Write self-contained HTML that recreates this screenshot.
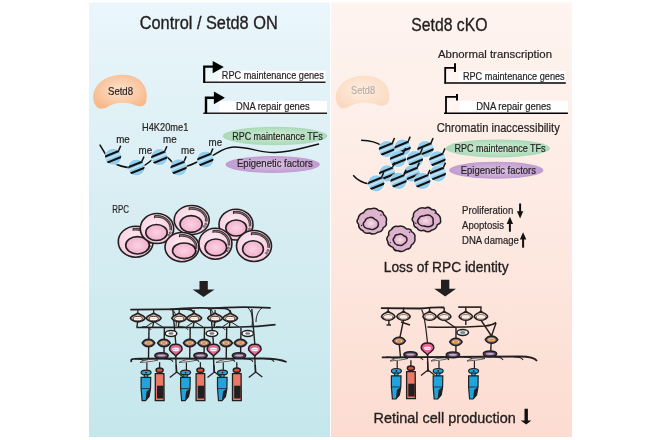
<!DOCTYPE html>
<html><head><meta charset="utf-8">
<style>
html,body{margin:0;padding:0;background:#fff;width:660px;height:440px;overflow:hidden}
svg{display:block;will-change:transform}
text{font-family:"Liberation Sans",sans-serif;fill:#231f20;stroke:#231f20;stroke-width:0.28px}
</style></head>
<body>
<svg width="660" height="440" viewBox="0 0 660 440">
<defs>
  <linearGradient id="gL" x1="0" y1="0" x2="0" y2="1">
    <stop offset="0" stop-color="#eaf6fb"/>
    <stop offset="0.45" stop-color="#d9eef3"/>
    <stop offset="1" stop-color="#c4e7ec"/>
  </linearGradient>
  <linearGradient id="gR" x1="0" y1="0" x2="0" y2="1">
    <stop offset="0" stop-color="#fef4f0"/>
    <stop offset="0.45" stop-color="#fdebe4"/>
    <stop offset="1" stop-color="#fcdcd1"/>
  </linearGradient>
  <radialGradient id="gSetd8" cx="0.5" cy="0.45" r="0.6">
    <stop offset="0" stop-color="#fde2cc"/>
    <stop offset="1" stop-color="#f7b88a"/>
  </radialGradient>
  <radialGradient id="gSetd8f" cx="0.5" cy="0.45" r="0.6">
    <stop offset="0" stop-color="#fdeee2"/>
    <stop offset="1" stop-color="#fbd9bf"/>
  </radialGradient>
  <radialGradient id="gGreen" cx="0.5" cy="0.5" r="0.5">
    <stop offset="0" stop-color="#d2ecd6"/>
    <stop offset="1" stop-color="#a9dab8"/>
  </radialGradient>
  <radialGradient id="gPurp" cx="0.5" cy="0.5" r="0.5">
    <stop offset="0" stop-color="#dcc4e4"/>
    <stop offset="1" stop-color="#c09bd0"/>
  </radialGradient>
  <radialGradient id="gNucl" cx="0.5" cy="0.5" r="0.5">
    <stop offset="0" stop-color="#fad3e3"/>
    <stop offset="1" stop-color="#f3b0cc"/>
  </radialGradient>
  <radialGradient id="gCell" cx="0.45" cy="0.4" r="0.6">
    <stop offset="0" stop-color="#fdeaf2"/>
    <stop offset="1" stop-color="#f7c9dc"/>
  </radialGradient>
  <radialGradient id="gDying" cx="0.5" cy="0.5" r="0.5">
    <stop offset="0" stop-color="#f6dcea"/>
    <stop offset="1" stop-color="#dba6c6"/>
  </radialGradient>
  <clipPath id="nclip"><circle r="8.1"/></clipPath>
  <g id="nuc">
    <circle r="8.8" fill="#fff" opacity="0.6"/>
    <circle r="8.1" fill="#94ceee"/>
    <g clip-path="url(#nclip)">
      <g transform="rotate(-22)">
        <rect x="-10" y="-1" width="20" height="1.3" fill="#c9e9f8"/>
        <rect x="-10" y="-4.3" width="20" height="2.1" fill="#111"/>
        <rect x="-10" y="2.2" width="20" height="2.1" fill="#111"/>
      </g>
    </g>
    <line x1="5.4" y1="-5.9" x2="7.6" y2="-11" stroke="#111" stroke-width="1.5"/>
  </g>
</defs>


<!-- panels -->
<rect x="89" y="2.5" width="241" height="434.5" fill="url(#gL)"/>
<rect x="331" y="2.5" width="241" height="434.5" fill="url(#gR)"/>

<!-- ============ LEFT PANEL ============ -->
<text x="139.7" y="29.2" font-size="17.6" style="stroke-width:0.34px" textLength="138" lengthAdjust="spacingAndGlyphs">Control / Setd8 ON</text>

<path d="M96,106 C89,96 95,77 119,75 C139,73 149,86 146.5,100 C145.8,106.5 140.5,107.5 134.5,105 C126,101.5 115,102 107,107.3 C101.5,110 97.5,108.5 96,106 Z" fill="url(#gSetd8)"/>
<text x="108" y="94.5" font-size="11.2" style="stroke-width:0.2px" textLength="25" lengthAdjust="spacingAndGlyphs">Setd8</text>

<!-- gene 1 -->
<rect x="205" y="70.7" width="14" height="11.5" fill="#eef8fb"/>
<rect x="218.5" y="70.7" width="107" height="11.5" fill="#fff"/>
<line x1="203.2" y1="82.3" x2="325.5" y2="82.3" stroke="#231f20" stroke-width="1.4"/>
<path d="M204.2,82.8 V66.7 H214" fill="none" stroke="#000" stroke-width="2.2"/>
<polygon points="212.7,61 223.8,66.9 212.7,73.3" fill="#000"/>
<text x="221.8" y="78.8" font-size="10.59" style="stroke-width:0.2px" textLength="102" lengthAdjust="spacingAndGlyphs">RPC maintenance genes</text>

<!-- gene 2 -->
<rect x="206.5" y="100.9" width="13" height="12" fill="#eef8fb"/>
<rect x="219.2" y="100.9" width="107.8" height="12" fill="#fff"/>
<line x1="203.3" y1="113.2" x2="327" y2="113.2" stroke="#231f20" stroke-width="1.4"/>
<path d="M206,113.5 V97.7 H215" fill="none" stroke="#000" stroke-width="2.4"/>
<polygon points="213.9,91.4 224.9,97.8 213.9,104.3" fill="#000"/>
<text x="235.9" y="109.6" font-size="10.59" style="stroke-width:0.2px" textLength="73.8" lengthAdjust="spacingAndGlyphs">DNA repair genes</text>

<text x="142" y="130.9" font-size="10.3" style="stroke-width:0.2px" textLength="46.3" lengthAdjust="spacingAndGlyphs">H4K20me1</text>

<ellipse cx="275" cy="136" rx="52.3" ry="9.2" fill="url(#gGreen)"/>
<text x="232.2" y="139.5" font-size="10.6" style="stroke-width:0.2px" textLength="90.5" lengthAdjust="spacingAndGlyphs">RPC maintenance TFs</text>
<ellipse cx="272.7" cy="164.5" rx="47.2" ry="8.5" fill="url(#gPurp)"/>
<text x="237" y="166.8" font-size="10.6" style="stroke-width:0.2px" textLength="75.7" lengthAdjust="spacingAndGlyphs">Epigenetic factors</text>

<path d="M99.7,144.7 L106,155 C112,165 125,168 136,168 C147,168 150,158 160,156 C170,154 172,166 179,167 C190,168 196,161 205,159 C215,156 222,147 234,147 C250,147 260,153 275,152.5 C292,152 305,147 319,144" fill="none" stroke="#111" stroke-width="1.5"/>
<use href="#nuc" x="113.1" y="156.75"/>
<use href="#nuc" x="136.4" y="167.5"/>
<use href="#nuc" x="159.3" y="157.2"/>
<use href="#nuc" x="178.6" y="167.4"/>
<use href="#nuc" x="205.3" y="159.5"/>
<text x="116.2" y="142.5" font-size="10.4" style="stroke-width:0.2px" textLength="13.6" lengthAdjust="spacingAndGlyphs">me</text>
<text x="138.5" y="154" font-size="10.4" style="stroke-width:0.2px" textLength="13.6" lengthAdjust="spacingAndGlyphs">me</text>
<text x="163" y="142.5" font-size="10.4" style="stroke-width:0.2px" textLength="13.6" lengthAdjust="spacingAndGlyphs">me</text>
<text x="181" y="154" font-size="10.4" style="stroke-width:0.2px" textLength="13.6" lengthAdjust="spacingAndGlyphs">me</text>
<text x="208.5" y="145.5" font-size="10.4" style="stroke-width:0.2px" textLength="13.6" lengthAdjust="spacingAndGlyphs">me</text>

<text x="112.3" y="212.6" font-size="10.2" style="stroke-width:0.2px" textLength="16.7" lengthAdjust="spacingAndGlyphs">RPC</text>

<ellipse cx="191.7" cy="220" rx="17.5" ry="14.5" fill="url(#gCell)" stroke="#231f20" stroke-width="1.6"/>
<path d="M189.67,208.51 A14.60,11.60 0 0 1 206.16,221.61" fill="none" stroke="#3e3236" stroke-width="2.6"/>
<path d="M189.67,208.51 A14.60,11.60 0 0 1 206.16,221.61" fill="none" stroke="#9a8a90" stroke-width="0.7"/>
<path d="M189.37,207.31 L189.07,210.11" fill="none" stroke="#231f20" stroke-width="1.1"/>
<circle cx="205.70" cy="224.07" r="0.9" fill="#fff" stroke="#231f20" stroke-width="0.8"/>
<circle cx="204.20" cy="226.48" r="0.9" fill="#fff" stroke="#231f20" stroke-width="0.8"/>
<ellipse cx="191.1" cy="224" rx="11.1" ry="8.4" fill="url(#gNucl)" stroke="#231f20" stroke-width="1.6"/>
<ellipse cx="236" cy="224.6" rx="17" ry="15.4" fill="url(#gCell)" stroke="#231f20" stroke-width="1.6"/>
<path d="M234.04,212.22 A14.10,12.50 0 0 1 249.96,226.34" fill="none" stroke="#3e3236" stroke-width="2.6"/>
<path d="M234.04,212.22 A14.10,12.50 0 0 1 249.96,226.34" fill="none" stroke="#9a8a90" stroke-width="0.7"/>
<path d="M233.74,211.02 L233.44,213.82" fill="none" stroke="#231f20" stroke-width="1.1"/>
<circle cx="249.53" cy="228.98" r="0.9" fill="#fff" stroke="#231f20" stroke-width="0.8"/>
<circle cx="248.08" cy="231.57" r="0.9" fill="#fff" stroke="#231f20" stroke-width="0.8"/>
<ellipse cx="236.2" cy="228" rx="10.4" ry="8" fill="url(#gNucl)" stroke="#231f20" stroke-width="1.6"/>
<ellipse cx="135.7" cy="241.7" rx="17.4" ry="15.5" fill="url(#gCell)" stroke="#231f20" stroke-width="1.6"/>
<path d="M133.68,229.22 A14.50,12.60 0 0 1 150.06,243.45" fill="none" stroke="#3e3236" stroke-width="2.6"/>
<path d="M133.68,229.22 A14.50,12.60 0 0 1 150.06,243.45" fill="none" stroke="#9a8a90" stroke-width="0.7"/>
<path d="M133.38,228.02 L133.08,230.82" fill="none" stroke="#231f20" stroke-width="1.1"/>
<circle cx="149.61" cy="246.11" r="0.9" fill="#fff" stroke="#231f20" stroke-width="0.8"/>
<circle cx="148.11" cy="248.73" r="0.9" fill="#fff" stroke="#231f20" stroke-width="0.8"/>
<ellipse cx="137.5" cy="245.3" rx="11.8" ry="8.7" fill="url(#gNucl)" stroke="#231f20" stroke-width="1.6"/>
<ellipse cx="157" cy="228.5" rx="16.7" ry="15" fill="url(#gCell)" stroke="#231f20" stroke-width="1.6"/>
<path d="M155.08,216.52 A13.80,12.10 0 0 1 170.67,230.18" fill="none" stroke="#3e3236" stroke-width="2.6"/>
<path d="M155.08,216.52 A13.80,12.10 0 0 1 170.67,230.18" fill="none" stroke="#9a8a90" stroke-width="0.7"/>
<path d="M154.78,215.32 L154.48,218.12" fill="none" stroke="#231f20" stroke-width="1.1"/>
<circle cx="170.25" cy="232.74" r="0.9" fill="#fff" stroke="#231f20" stroke-width="0.8"/>
<circle cx="168.83" cy="235.25" r="0.9" fill="#fff" stroke="#231f20" stroke-width="0.8"/>
<ellipse cx="156.5" cy="232.5" rx="10.7" ry="8" fill="url(#gNucl)" stroke="#231f20" stroke-width="1.6"/>
<ellipse cx="182" cy="247.1" rx="17" ry="14.6" fill="url(#gCell)" stroke="#231f20" stroke-width="1.6"/>
<path d="M180.04,235.51 A14.10,11.70 0 0 1 195.96,248.73" fill="none" stroke="#3e3236" stroke-width="2.6"/>
<path d="M180.04,235.51 A14.10,11.70 0 0 1 195.96,248.73" fill="none" stroke="#9a8a90" stroke-width="0.7"/>
<path d="M179.74,234.31 L179.44,237.11" fill="none" stroke="#231f20" stroke-width="1.1"/>
<circle cx="195.53" cy="251.20" r="0.9" fill="#fff" stroke="#231f20" stroke-width="0.8"/>
<circle cx="194.08" cy="253.64" r="0.9" fill="#fff" stroke="#231f20" stroke-width="0.8"/>
<ellipse cx="184.1" cy="250.8" rx="11.6" ry="7.8" fill="url(#gNucl)" stroke="#231f20" stroke-width="1.6"/>
<ellipse cx="215.4" cy="243.7" rx="16.5" ry="15.5" fill="url(#gCell)" stroke="#231f20" stroke-width="1.6"/>
<path d="M213.51,231.22 A13.60,12.60 0 0 1 228.87,245.45" fill="none" stroke="#3e3236" stroke-width="2.6"/>
<path d="M213.51,231.22 A13.60,12.60 0 0 1 228.87,245.45" fill="none" stroke="#9a8a90" stroke-width="0.7"/>
<path d="M213.21,230.02 L212.91,232.82" fill="none" stroke="#231f20" stroke-width="1.1"/>
<circle cx="228.46" cy="248.11" r="0.9" fill="#fff" stroke="#231f20" stroke-width="0.8"/>
<circle cx="227.06" cy="250.73" r="0.9" fill="#fff" stroke="#231f20" stroke-width="0.8"/>
<ellipse cx="215.8" cy="247.4" rx="10.8" ry="8.4" fill="url(#gNucl)" stroke="#231f20" stroke-width="1.6"/>
<ellipse cx="254" cy="246" rx="17.5" ry="15.5" fill="url(#gCell)" stroke="#231f20" stroke-width="1.6"/>
<path d="M251.97,233.52 A14.60,12.60 0 0 1 268.46,247.75" fill="none" stroke="#3e3236" stroke-width="2.6"/>
<path d="M251.97,233.52 A14.60,12.60 0 0 1 268.46,247.75" fill="none" stroke="#9a8a90" stroke-width="0.7"/>
<path d="M251.67,232.32 L251.37,235.12" fill="none" stroke="#231f20" stroke-width="1.1"/>
<circle cx="268.00" cy="250.41" r="0.9" fill="#fff" stroke="#231f20" stroke-width="0.8"/>
<circle cx="266.50" cy="253.03" r="0.9" fill="#fff" stroke="#231f20" stroke-width="0.8"/>
<ellipse cx="253" cy="249" rx="10.4" ry="8.3" fill="url(#gNucl)" stroke="#231f20" stroke-width="1.6"/>

<polygon points="199.5,281.1 207.8,281.1 207.8,289.5 214.6,289.5 203.5,297 192.7,289.5 199.5,289.5" fill="#231f20"/>

<!-- ============ RIGHT PANEL ============ -->
<text x="411.3" y="30.7" font-size="17.6" style="stroke-width:0.34px" textLength="76.2" lengthAdjust="spacingAndGlyphs">Setd8 cKO</text>

<path d="M338.5,106 C331.5,96 337.5,78 361.5,75.8 C381.5,74 391.5,87 389,99.5 C388,105.5 382.5,107 376.5,104.5 C367.5,101 356.5,102 348.5,107 C343.5,109.5 340,108.5 338.5,106 Z" fill="url(#gSetd8f)"/>
<text x="351.1" y="94.1" font-size="11.2" style="stroke-width:0.1px;fill:#b5aaa6;stroke:#b5aaa6" textLength="24" lengthAdjust="spacingAndGlyphs">Setd8</text>

<text x="438" y="58" font-size="11.3" style="stroke-width:0.2px" textLength="114" lengthAdjust="spacingAndGlyphs">Abnormal transcription</text>

<rect x="446" y="70.9" width="14" height="11.7" fill="#fff6f3"/>
<rect x="459.1" y="70.9" width="106.7" height="11.7" fill="#fff"/>
<line x1="444.4" y1="83" x2="565.8" y2="83" stroke="#000" stroke-width="1.6"/>
<path d="M445.2,83.5 V67.8 H455" fill="none" stroke="#000" stroke-width="1.8"/>
<line x1="455" y1="63.3" x2="455" y2="72" stroke="#000" stroke-width="2"/>
<text x="462.9" y="79.6" font-size="10.59" style="stroke-width:0.2px" textLength="101.8" lengthAdjust="spacingAndGlyphs">RPC maintenance genes</text>

<rect x="447" y="100.8" width="14" height="11.8" fill="#fff6f3"/>
<rect x="459.7" y="100.8" width="108.2" height="11.8" fill="#fff"/>
<line x1="444" y1="113.3" x2="567.9" y2="113.3" stroke="#000" stroke-width="1.6"/>
<path d="M446,113.8 V96.8 H457" fill="none" stroke="#000" stroke-width="1.8"/>
<line x1="457" y1="94" x2="457" y2="100.5" stroke="#000" stroke-width="2"/>
<text x="476.2" y="110.4" font-size="10.59" style="stroke-width:0.2px" textLength="74.8" lengthAdjust="spacingAndGlyphs">DNA repair genes</text>

<text x="436.8" y="131.5" font-size="12.4" style="stroke-width:0.2px" textLength="123" lengthAdjust="spacingAndGlyphs">Chromatin inaccessibility</text>

<ellipse cx="497.9" cy="148.4" rx="52" ry="9" fill="url(#gGreen)"/>
<text x="454.4" y="151.5" font-size="10.6" style="stroke-width:0.2px" textLength="91.2" lengthAdjust="spacingAndGlyphs">RPC maintenance TFs</text>
<ellipse cx="496.3" cy="170.2" rx="47.2" ry="8.5" fill="url(#gPurp)"/>
<text x="460.8" y="174" font-size="10.6" style="stroke-width:0.2px" textLength="75.2" lengthAdjust="spacingAndGlyphs">Epigenetic factors</text>

<path d="M361.1,140.3 C368,140.5 376,141.5 382,146" fill="none" stroke="#111" stroke-width="1.5"/>
<path d="M353.2,175.3 C357,180 362,183 370,184" fill="none" stroke="#111" stroke-width="1.5"/>

<use href="#nuc" x="386.9" y="149"/>
<use href="#nuc" x="402.6" y="147.6"/>
<use href="#nuc" x="425.5" y="149.1"/>
<use href="#nuc" x="398" y="159"/>
<use href="#nuc" x="414.9" y="159.2"/>
<use href="#nuc" x="437.4" y="159.4"/>
<use href="#nuc" x="387.1" y="173.4"/>
<use href="#nuc" x="411.7" y="173.6"/>
<use href="#nuc" x="437.9" y="173.6"/>
<use href="#nuc" x="376.2" y="183.3"/>
<use href="#nuc" x="398.5" y="180.9"/>
<use href="#nuc" x="422.3" y="180.9"/>
<path d="M386.17,222.28 Q387.41,225.71 383.23,227.69 Q382.39,231.97 377.59,232.29 Q373.94,235.40 369.51,232.97 Q364.86,234.29 362.96,230.73 Q358.31,228.76 358.62,224.20 Q355.64,221.33 358.25,218.54 Q358.42,214.34 363.53,212.78 Q366.06,208.30 370.87,208.93 Q375.40,206.96 378.66,210.44 Q383.15,210.58 383.66,214.65 Q387.64,217.80 386.17,222.28 Z" fill="#dfb2cd" stroke="#231f20" stroke-width="1.5"/>
<path d="M378.41,223.87 Q378.82,226.86 375.56,228.29 Q373.15,230.54 369.53,228.98 Q365.08,228.67 363.63,225.70 Q362.29,223.50 364.96,221.29 Q365.59,218.03 369.00,217.63 Q372.32,216.49 374.84,219.27 Q378.52,220.93 378.41,223.87 Z" fill="url(#gDying)" stroke="#231f20" stroke-width="1.4"/>
<circle cx="361.50" cy="225.56" r="0.7" fill="#231f20"/><circle cx="381.00" cy="215.00" r="0.7" fill="#231f20"/>
<path d="M414.83,237.98 Q415.82,242.23 411.36,245.20 Q410.75,249.26 406.28,249.26 Q402.72,252.76 398.36,250.70 Q394.51,251.58 393.08,247.41 Q387.93,245.74 387.68,241.36 Q385.45,238.19 388.81,235.20 Q387.74,230.99 391.49,229.65 Q393.41,225.62 398.05,226.49 Q402.77,225.01 406.67,229.07 Q411.08,228.36 411.53,231.61 Q415.85,233.96 414.83,237.98 Z" fill="#dfb2cd" stroke="#231f20" stroke-width="1.5"/>
<path d="M406.89,239.20 Q407.32,242.17 403.98,243.77 Q401.89,246.41 398.74,245.19 Q394.95,244.85 393.90,241.61 Q392.17,239.44 394.43,237.30 Q394.82,234.52 398.09,234.51 Q401.33,233.17 403.75,235.76 Q407.19,236.77 406.89,239.20 Z" fill="url(#gDying)" stroke="#231f20" stroke-width="1.4"/>
<circle cx="390.34" cy="242.60" r="0.7" fill="#231f20"/><circle cx="409.58" cy="232.20" r="0.7" fill="#231f20"/>
<path d="M440.51,220.38 Q441.66,223.13 437.36,224.60 Q436.33,229.45 431.30,230.36 Q428.01,233.13 423.98,230.34 Q419.10,231.60 417.05,228.04 Q412.96,226.53 413.82,222.40 Q410.81,219.43 413.40,216.48 Q412.84,211.90 417.14,210.09 Q419.97,206.60 425.24,208.16 Q428.94,206.09 431.52,209.51 Q435.82,209.30 436.27,213.15 Q441.12,216.15 440.51,220.38 Z" fill="#dfb2cd" stroke="#231f20" stroke-width="1.5"/>
<path d="M432.97,221.37 Q434.24,224.16 431.75,225.59 Q428.90,227.58 424.21,226.01 Q419.74,225.92 418.30,223.22 Q416.56,220.78 418.81,218.44 Q420.15,215.66 424.32,215.70 Q428.62,214.15 431.26,216.23 Q434.01,218.17 432.97,221.37 Z" fill="url(#gDying)" stroke="#231f20" stroke-width="1.4"/>
<circle cx="415.84" cy="223.28" r="0.7" fill="#231f20"/><circle cx="435.08" cy="213.20" r="0.7" fill="#231f20"/>

<text x="462.1" y="214" font-size="10.2" style="stroke-width:0.2px" textLength="51.2" lengthAdjust="spacingAndGlyphs">Proliferation</text>
<text x="462.1" y="229" font-size="10.2" style="stroke-width:0.2px" textLength="41.9" lengthAdjust="spacingAndGlyphs">Apoptosis</text>
<text x="462.1" y="244" font-size="10.2" style="stroke-width:0.2px" textLength="56.7" lengthAdjust="spacingAndGlyphs">DNA damage</text>
<g fill="#111">
<rect x="519.1" y="203.5" width="2" height="9"/><polygon points="516.9,211.3 523.3,211.3 520.1,218.4"/>
<rect x="508.9" y="222" width="2" height="9.7"/><polygon points="506.7,224 513.1,224 509.9,216.8"/>
<rect x="522.1" y="237.5" width="2" height="10.2"/><polygon points="519.9,239.5 526.3,239.5 523.1,232.2"/>
</g>

<text x="383.8" y="272.3" font-size="14.5" style="stroke-width:0.34px" textLength="124.8" lengthAdjust="spacingAndGlyphs">Loss of RPC identity</text>
<polygon points="441,279.8 449.3,279.8 449.3,288.8 456,288.8 445.2,296.5 434.2,288.8 441,288.8" fill="#231f20"/>

<text x="373.6" y="422.6" font-size="14.4" style="stroke-width:0.34px" textLength="142.2" lengthAdjust="spacingAndGlyphs">Retinal cell production</text>
<polygon points="524.5,408.7 527.9,408.7 527.9,420.5 531.3,420.5 526.2,424.6 520.7,420.5 524.5,420.5" fill="#111"/>

<path d="M130.3,309.6 L186,309.2 C190,309.2 193,310.5 194,313" fill="none" stroke="#231f20" stroke-width="1.8"/>
<path d="M170,309.5 C185,307.5 200,307.3 225,308.5 C228,309 230,310.5 231,313" fill="none" stroke="#231f20" stroke-width="1.6"/>
<path d="M208,309 C225,306.8 245,306.5 270.7,307.8" fill="none" stroke="#231f20" stroke-width="1.7"/>
<path d="M171.5,309 C176,312 177,318 176,326 M248,308 C252,311 253,318 252,326 M210,308.5 C214,312 215,318 214,326" fill="none" stroke="#231f20" stroke-width="1"/>
<path d="M262,308 C258,311 256,316 256,322" fill="none" stroke="#231f20" stroke-width="1"/>
<path d="M136.6,327.5 C170,327 200,328 240,327 C255,327 265,326 275.5,324.6" fill="none" stroke="#231f20" stroke-width="1.6"/>
<path d="M131.5,362 C130.5,360 131.5,358.8 134,358.8 C170,358 220,359 260,358.5 C272,358.3 280,359 286.6,362" fill="none" stroke="#231f20" stroke-width="1.8"/>
<line x1="137.8" y1="310" x2="137.8" y2="314.5" stroke="#231f20" stroke-width="1.2"/>
<line x1="137.8" y1="321" x2="136.8" y2="327.5" stroke="#231f20" stroke-width="1.4"/>
<line x1="153.7" y1="310" x2="153.7" y2="314.5" stroke="#231f20" stroke-width="1.2"/>
<line x1="153.7" y1="321" x2="152.7" y2="327.5" stroke="#231f20" stroke-width="1.4"/>
<line x1="179.2" y1="310" x2="179.2" y2="314.5" stroke="#231f20" stroke-width="1.2"/>
<line x1="179.2" y1="321" x2="178.2" y2="327.5" stroke="#231f20" stroke-width="1.4"/>
<line x1="194.2" y1="310" x2="194.2" y2="314.5" stroke="#231f20" stroke-width="1.2"/>
<line x1="194.2" y1="321" x2="193.2" y2="327.5" stroke="#231f20" stroke-width="1.4"/>
<line x1="215.1" y1="310" x2="215.1" y2="314.5" stroke="#231f20" stroke-width="1.2"/>
<line x1="215.1" y1="321" x2="214.1" y2="327.5" stroke="#231f20" stroke-width="1.4"/>
<line x1="230.2" y1="310" x2="230.2" y2="314.5" stroke="#231f20" stroke-width="1.2"/>
<line x1="230.2" y1="321" x2="229.2" y2="327.5" stroke="#231f20" stroke-width="1.4"/>
<path d="M153.7,321.5 L145.7,327 M153.7,321.5 L162.7,327" fill="none" stroke="#231f20" stroke-width="1"/>
<path d="M194.2,321.5 L186.2,327 M194.2,321.5 L203.2,327" fill="none" stroke="#231f20" stroke-width="1"/>
<path d="M230.2,321.5 L222.2,327 M230.2,321.5 L239.2,327" fill="none" stroke="#231f20" stroke-width="1"/>
<line x1="149.0" y1="327.5" x2="148.5" y2="358.8" stroke="#231f20" stroke-width="1.4"/>
<line x1="164.4" y1="327.5" x2="163.9" y2="358.8" stroke="#231f20" stroke-width="1.4"/>
<line x1="190.2" y1="327.5" x2="189.7" y2="358.8" stroke="#231f20" stroke-width="1.4"/>
<line x1="204.5" y1="327.5" x2="204" y2="358.8" stroke="#231f20" stroke-width="1.4"/>
<line x1="226.7" y1="327.5" x2="226.2" y2="358.8" stroke="#231f20" stroke-width="1.4"/>
<line x1="241.0" y1="327.5" x2="240.5" y2="358.8" stroke="#231f20" stroke-width="1.4"/>
<line x1="172.8" y1="309" x2="175.8" y2="344" stroke="#231f20" stroke-width="1.4"/>
<line x1="175.8" y1="356" x2="176.3" y2="372" stroke="#231f20" stroke-width="1.4"/>
<line x1="210.5" y1="309" x2="213.5" y2="344" stroke="#231f20" stroke-width="1.4"/>
<line x1="213.5" y1="356" x2="214.0" y2="372" stroke="#231f20" stroke-width="1.4"/>
<line x1="251.8" y1="309" x2="254.8" y2="344" stroke="#231f20" stroke-width="1.4"/>
<line x1="254.8" y1="356" x2="255.3" y2="372" stroke="#231f20" stroke-width="1.4"/>
<path d="M130.40,318.40 C130.40,315.80 135.60,314.80 137.80,313.20 C140.00,314.80 145.20,315.80 145.20,318.40 C141.87,323.00 133.73,323.00 130.40,318.40 Z" fill="#e2bca6" stroke="#231f20" stroke-width="1.6"/><ellipse cx="137.8" cy="318.60" rx="4.6" ry="2.3" fill="#fff6ee" stroke="#3a2c28" stroke-width="1"/><rect x="134.80" y="318.30" width="6" height="0.7" fill="#e6cbb8"/>
<path d="M146.30,318.40 C146.30,315.80 151.50,314.80 153.70,313.20 C155.90,314.80 161.10,315.80 161.10,318.40 C157.77,323.00 149.63,323.00 146.30,318.40 Z" fill="#e2bca6" stroke="#231f20" stroke-width="1.6"/><ellipse cx="153.7" cy="318.60" rx="4.6" ry="2.3" fill="#fff6ee" stroke="#3a2c28" stroke-width="1"/><rect x="150.70" y="318.30" width="6" height="0.7" fill="#e6cbb8"/>
<path d="M171.80,318.40 C171.80,315.80 177.00,314.80 179.20,313.20 C181.40,314.80 186.60,315.80 186.60,318.40 C183.27,323.00 175.13,323.00 171.80,318.40 Z" fill="#e2bca6" stroke="#231f20" stroke-width="1.6"/><ellipse cx="179.2" cy="318.60" rx="4.6" ry="2.3" fill="#fff6ee" stroke="#3a2c28" stroke-width="1"/><rect x="176.20" y="318.30" width="6" height="0.7" fill="#e6cbb8"/>
<path d="M186.80,318.40 C186.80,315.80 192.00,314.80 194.20,313.20 C196.40,314.80 201.60,315.80 201.60,318.40 C198.27,323.00 190.13,323.00 186.80,318.40 Z" fill="#e2bca6" stroke="#231f20" stroke-width="1.6"/><ellipse cx="194.2" cy="318.60" rx="4.6" ry="2.3" fill="#fff6ee" stroke="#3a2c28" stroke-width="1"/><rect x="191.20" y="318.30" width="6" height="0.7" fill="#e6cbb8"/>
<path d="M207.70,318.40 C207.70,315.80 212.90,314.80 215.10,313.20 C217.30,314.80 222.50,315.80 222.50,318.40 C219.17,323.00 211.03,323.00 207.70,318.40 Z" fill="#e2bca6" stroke="#231f20" stroke-width="1.6"/><ellipse cx="215.1" cy="318.60" rx="4.6" ry="2.3" fill="#fff6ee" stroke="#3a2c28" stroke-width="1"/><rect x="212.10" y="318.30" width="6" height="0.7" fill="#e6cbb8"/>
<path d="M222.80,318.40 C222.80,315.80 228.00,314.80 230.20,313.20 C232.40,314.80 237.60,315.80 237.60,318.40 C234.27,323.00 226.13,323.00 222.80,318.40 Z" fill="#e2bca6" stroke="#231f20" stroke-width="1.6"/><ellipse cx="230.2" cy="318.60" rx="4.6" ry="2.3" fill="#fff6ee" stroke="#3a2c28" stroke-width="1"/><rect x="227.20" y="318.30" width="6" height="0.7" fill="#e6cbb8"/>
<ellipse cx="171" cy="333.5" rx="5.8" ry="2.9" fill="#fff" stroke="#231f20" stroke-width="1.5"/><ellipse cx="171" cy="333.5" rx="2.6" ry="1.2" fill="#7a7a7a"/>
<ellipse cx="211.9" cy="333.5" rx="5.8" ry="2.9" fill="#fff" stroke="#231f20" stroke-width="1.5"/><ellipse cx="211.9" cy="333.5" rx="2.6" ry="1.2" fill="#7a7a7a"/>
<ellipse cx="247.7" cy="333.5" rx="5.8" ry="2.9" fill="#fff" stroke="#231f20" stroke-width="1.5"/><ellipse cx="247.7" cy="333.5" rx="2.6" ry="1.2" fill="#7a7a7a"/>
<path d="M142.30,343.00 C145.09,338.21 151.91,338.21 154.70,343.00 C151.91,347.79 145.09,347.79 142.30,343.00 Z" fill="#9c7c70" stroke="#231f20" stroke-width="1.6"/><ellipse cx="148.5" cy="343" rx="3.3" ry="1.4" fill="#f3e3dc"/><ellipse cx="148.5" cy="343" rx="2.64" ry="0.98" fill="#f08c14"/>
<path d="M157.70,343.00 C160.49,338.21 167.31,338.21 170.10,343.00 C167.31,347.79 160.49,347.79 157.70,343.00 Z" fill="#9c7c70" stroke="#231f20" stroke-width="1.6"/><ellipse cx="163.9" cy="343" rx="3.3" ry="1.4" fill="#f3e3dc"/><ellipse cx="163.9" cy="343" rx="2.64" ry="0.98" fill="#f08c14"/>
<path d="M183.50,343.00 C186.29,338.21 193.11,338.21 195.90,343.00 C193.11,347.79 186.29,347.79 183.50,343.00 Z" fill="#9c7c70" stroke="#231f20" stroke-width="1.6"/><ellipse cx="189.7" cy="343" rx="3.3" ry="1.4" fill="#f3e3dc"/><ellipse cx="189.7" cy="343" rx="2.64" ry="0.98" fill="#f08c14"/>
<path d="M197.80,343.00 C200.59,338.21 207.41,338.21 210.20,343.00 C207.41,347.79 200.59,347.79 197.80,343.00 Z" fill="#9c7c70" stroke="#231f20" stroke-width="1.6"/><ellipse cx="204" cy="343" rx="3.3" ry="1.4" fill="#f3e3dc"/><ellipse cx="204" cy="343" rx="2.64" ry="0.98" fill="#f08c14"/>
<path d="M220.00,343.00 C222.79,338.21 229.61,338.21 232.40,343.00 C229.61,347.79 222.79,347.79 220.00,343.00 Z" fill="#9c7c70" stroke="#231f20" stroke-width="1.6"/><ellipse cx="226.2" cy="343" rx="3.3" ry="1.4" fill="#f3e3dc"/><ellipse cx="226.2" cy="343" rx="2.64" ry="0.98" fill="#f08c14"/>
<path d="M234.30,343.00 C237.09,338.21 243.91,338.21 246.70,343.00 C243.91,347.79 237.09,347.79 234.30,343.00 Z" fill="#9c7c70" stroke="#231f20" stroke-width="1.6"/><ellipse cx="240.5" cy="343" rx="3.3" ry="1.4" fill="#f3e3dc"/><ellipse cx="240.5" cy="343" rx="2.64" ry="0.98" fill="#f08c14"/>
<path d="M135,358.8 C140,358.6 143,359.5 144,361.8" fill="none" stroke="#231f20" stroke-width="1.1"/>
<path d="M164,358.8 C169,358.6 172,359.5 173,361.8" fill="none" stroke="#231f20" stroke-width="1.1"/>
<path d="M190,358.8 C195,358.6 198,359.5 199,361.8" fill="none" stroke="#231f20" stroke-width="1.1"/>
<path d="M226,358.8 C231,358.6 234,359.5 235,361.8" fill="none" stroke="#231f20" stroke-width="1.1"/>
<path d="M244,358.8 C249,358.6 252,359.5 253,361.8" fill="none" stroke="#231f20" stroke-width="1.1"/>
<path d="M265,358.8 C270,358.6 273,359.5 274,361.8" fill="none" stroke="#231f20" stroke-width="1.1"/>
<path d="M142,326.8 C147,326.5 150,327.5 151,330" fill="none" stroke="#231f20" stroke-width="1"/>
<path d="M179,326.8 C184,326.5 187,327.5 188,330" fill="none" stroke="#231f20" stroke-width="1"/>
<path d="M216,326.8 C221,326.5 224,327.5 225,330" fill="none" stroke="#231f20" stroke-width="1"/>
<path d="M175.80,356.20 C173.80,353.20 169.50,352.20 169.50,349.20 C169.50,345.20 172.80,344.20 175.80,344.20 C178.80,344.20 182.10,345.20 182.10,349.20 C182.10,352.20 177.80,353.20 175.80,356.20 Z" fill="#ec6396" stroke="#231f20" stroke-width="1.5"/><ellipse cx="175.8" cy="349.40" rx="3.6" ry="1.8" fill="#fff"/><rect x="172.40" y="349.00" width="6.8" height="0.8" fill="#f3a5c2"/>
<path d="M213.50,356.20 C211.50,353.20 207.20,352.20 207.20,349.20 C207.20,345.20 210.50,344.20 213.50,344.20 C216.50,344.20 219.80,345.20 219.80,349.20 C219.80,352.20 215.50,353.20 213.50,356.20 Z" fill="#ec6396" stroke="#231f20" stroke-width="1.5"/><ellipse cx="213.5" cy="349.40" rx="3.6" ry="1.8" fill="#fff"/><rect x="210.10" y="349.00" width="6.8" height="0.8" fill="#f3a5c2"/>
<path d="M254.80,356.20 C252.80,353.20 248.50,352.20 248.50,349.20 C248.50,345.20 251.80,344.20 254.80,344.20 C257.80,344.20 261.10,345.20 261.10,349.20 C261.10,352.20 256.80,353.20 254.80,356.20 Z" fill="#ec6396" stroke="#231f20" stroke-width="1.5"/><ellipse cx="254.8" cy="349.40" rx="3.6" ry="1.8" fill="#fff"/><rect x="251.40" y="349.00" width="6.8" height="0.8" fill="#f3a5c2"/>
<ellipse cx="161.5" cy="355.5" rx="6.6" ry="2.8" fill="#5e4e62" stroke="#231f20" stroke-width="1.6"/><ellipse cx="161.5" cy="355.50" rx="4" ry="1.1" fill="#c7a6d6"/>
<ellipse cx="200.5" cy="355.5" rx="6.6" ry="2.8" fill="#5e4e62" stroke="#231f20" stroke-width="1.6"/><ellipse cx="200.5" cy="355.50" rx="4" ry="1.1" fill="#c7a6d6"/>
<ellipse cx="239" cy="355.5" rx="6.6" ry="2.8" fill="#5e4e62" stroke="#231f20" stroke-width="1.6"/><ellipse cx="239" cy="355.50" rx="4" ry="1.1" fill="#c7a6d6"/>
<path d="M176.3,365 L176.8,372 L169.8,377.5 M176.8,372 L183.3,377" fill="none" stroke="#231f20" stroke-width="1.3"/>
<path d="M214.0,365 L214.5,372 L207.5,377.5 M214.5,372 L221.0,377" fill="none" stroke="#231f20" stroke-width="1.3"/>
<path d="M255.3,365 L255.8,372 L248.8,377.5 M255.8,372 L262.3,377" fill="none" stroke="#231f20" stroke-width="1.3"/>
<path d="M140,362.5 C144,359.5 153,359 158,360 C153,361.5 145,362 140,362.5 Z" fill="#fff" stroke="#231f20" stroke-width="0.7"/>
<path d="M179,362.5 C183,359.5 192,359 197,360 C192,361.5 184,362 179,362.5 Z" fill="#fff" stroke="#231f20" stroke-width="0.7"/>
<path d="M216,362.5 C220,359.5 229,359 234,360 C229,361.5 221,362 216,362.5 Z" fill="#fff" stroke="#231f20" stroke-width="0.7"/>
<line x1="146.90" y1="362.60" x2="146.90" y2="370.60" stroke="#231f20" stroke-width="1.2"/><ellipse cx="146.1" cy="372.6" rx="5" ry="2.5" fill="#20a4dd" stroke="#231f20" stroke-width="1.2"/><circle cx="146.1" cy="372.6" r="0.9" fill="#231f20"/><rect x="144.30" y="374.60" width="3.4" height="3" fill="#20a4dd" stroke="#231f20" stroke-width="1"/><path d="M141.10,377.40 L150.70,377.40 L150.50,388.60 L149.10,396.60 L145.60,400.60 L142.10,400.60 L141.10,388.60 Z" fill="#20a4dd" stroke="#231f20" stroke-width="1.2"/><path d="M150.50,388.60 L149.10,396.60 L145.60,400.60 L146.60,391.60 Z" fill="#231f20"/><line x1="141.10" y1="388.60" x2="150.50" y2="388.60" stroke="#231f20" stroke-width="0.8"/>
<line x1="186.40" y1="362.60" x2="186.40" y2="370.60" stroke="#231f20" stroke-width="1.2"/><ellipse cx="185.6" cy="372.6" rx="5" ry="2.5" fill="#20a4dd" stroke="#231f20" stroke-width="1.2"/><circle cx="185.6" cy="372.6" r="0.9" fill="#231f20"/><rect x="183.80" y="374.60" width="3.4" height="3" fill="#20a4dd" stroke="#231f20" stroke-width="1"/><path d="M180.60,377.40 L190.20,377.40 L190.00,388.60 L188.60,396.60 L185.10,400.60 L181.60,400.60 L180.60,388.60 Z" fill="#20a4dd" stroke="#231f20" stroke-width="1.2"/><path d="M190.00,388.60 L188.60,396.60 L185.10,400.60 L186.10,391.60 Z" fill="#231f20"/><line x1="180.60" y1="388.60" x2="190.00" y2="388.60" stroke="#231f20" stroke-width="0.8"/>
<line x1="223.30" y1="362.60" x2="223.30" y2="370.60" stroke="#231f20" stroke-width="1.2"/><ellipse cx="222.5" cy="372.6" rx="5" ry="2.5" fill="#20a4dd" stroke="#231f20" stroke-width="1.2"/><circle cx="222.5" cy="372.6" r="0.9" fill="#231f20"/><rect x="220.70" y="374.60" width="3.4" height="3" fill="#20a4dd" stroke="#231f20" stroke-width="1"/><path d="M217.50,377.40 L227.10,377.40 L226.90,388.60 L225.50,396.60 L222.00,400.60 L218.50,400.60 L217.50,388.60 Z" fill="#20a4dd" stroke="#231f20" stroke-width="1.2"/><path d="M226.90,388.60 L225.50,396.60 L222.00,400.60 L223.00,391.60 Z" fill="#231f20"/><line x1="217.50" y1="388.60" x2="226.90" y2="388.60" stroke="#231f20" stroke-width="0.8"/>
<line x1="159.60" y1="362.20" x2="159.60" y2="368.20" stroke="#231f20" stroke-width="1.3"/><ellipse cx="159.6" cy="370.2" rx="3.6" ry="2.2" fill="#d0503e" stroke="#231f20" stroke-width="1.3"/><path d="M155.30,373.70 L163.90,373.70 L164.10,400.70 L155.30,400.70 Z" fill="#ea7a66" stroke="#231f20" stroke-width="1.3"/><rect x="157.00" y="385.70" width="6.4" height="12.8" fill="#231f20"/>
<line x1="200.40" y1="362.20" x2="200.40" y2="368.20" stroke="#231f20" stroke-width="1.3"/><ellipse cx="200.4" cy="370.2" rx="3.6" ry="2.2" fill="#d0503e" stroke="#231f20" stroke-width="1.3"/><path d="M196.10,373.70 L204.70,373.70 L204.90,400.70 L196.10,400.70 Z" fill="#ea7a66" stroke="#231f20" stroke-width="1.3"/><rect x="197.80" y="385.70" width="6.4" height="12.8" fill="#231f20"/>
<line x1="236.80" y1="362.20" x2="236.80" y2="368.20" stroke="#231f20" stroke-width="1.3"/><ellipse cx="236.8" cy="370.2" rx="3.6" ry="2.2" fill="#d0503e" stroke="#231f20" stroke-width="1.3"/><path d="M232.50,373.70 L241.10,373.70 L241.30,400.70 L232.50,400.70 Z" fill="#ea7a66" stroke="#231f20" stroke-width="1.3"/><rect x="234.20" y="385.70" width="6.4" height="12.8" fill="#231f20"/>
<path d="M380.9,308.2 L420,308.5 C430,307.5 438,307 444.2,307.5" fill="none" stroke="#231f20" stroke-width="1.8"/>
<path d="M458.2,307.1 L481.7,307.1" fill="none" stroke="#231f20" stroke-width="1.6"/>
<path d="M427.5,327 C450,327.5 470,327 485,326 C490,325.5 494,324 496,322.5" fill="none" stroke="#231f20" stroke-width="1.6"/>
<path d="M381.8,357.3 C420,357 470,356.5 520,356.5 C530,356.5 535,358 537,361" fill="none" stroke="#231f20" stroke-width="1.8"/>
<line x1="388.2" y1="307.5" x2="388.2" y2="313" stroke="#231f20" stroke-width="1.4"/>
<line x1="403.5" y1="307.5" x2="403.5" y2="313" stroke="#231f20" stroke-width="1.4"/>
<line x1="429.6" y1="307.5" x2="429.6" y2="313" stroke="#231f20" stroke-width="1.4"/>
<line x1="444.2" y1="307.5" x2="444.2" y2="313" stroke="#231f20" stroke-width="1.4"/>
<line x1="465.8" y1="307.5" x2="465.8" y2="313" stroke="#231f20" stroke-width="1.4"/>
<line x1="480.9" y1="307.5" x2="480.9" y2="313" stroke="#231f20" stroke-width="1.4"/>
<path d="M421.6,309.6 C425,315 426,330 427.5,343" fill="none" stroke="#231f20" stroke-width="1.2"/>
<line x1="388.9" y1="320" x2="388.9" y2="325" stroke="#231f20" stroke-width="1.4"/><line x1="386.5" y1="325" x2="391" y2="325" stroke="#231f20" stroke-width="1.4"/>
<path d="M401,322 L410,325 M403.5,320 L399,342 L400.5,357" fill="none" stroke="#231f20" stroke-width="1.4"/>
<path d="M444.2,320 L456,328 L455.9,357 M480.9,320 L491.5,336 L490.5,356 M491.5,336 L496,323" fill="none" stroke="#231f20" stroke-width="1.4"/>
<line x1="465.8" y1="320" x2="465.8" y2="325" stroke="#231f20" stroke-width="1.4"/>
<path d="M427.5,354 L428,372" fill="none" stroke="#231f20" stroke-width="1.4"/>
<path d="M381.50,316.70 C381.50,314.10 386.00,313.10 388.20,311.50 C390.40,313.10 394.90,314.10 394.90,316.70 C391.88,321.30 384.51,321.30 381.50,316.70 Z" fill="#f0dccd" stroke="#231f20" stroke-width="1.6"/><ellipse cx="388.2" cy="316.90" rx="4.6" ry="2.3" fill="#fffaf5" stroke="#8a6a5a" stroke-width="1"/><rect x="385.20" y="316.60" width="6" height="0.7" fill="#ead2c0"/>
<path d="M396.80,316.70 C396.80,314.10 401.30,313.10 403.50,311.50 C405.70,313.10 410.20,314.10 410.20,316.70 C407.19,321.30 399.81,321.30 396.80,316.70 Z" fill="#f0dccd" stroke="#231f20" stroke-width="1.6"/><ellipse cx="403.5" cy="316.90" rx="4.6" ry="2.3" fill="#fffaf5" stroke="#8a6a5a" stroke-width="1"/><rect x="400.50" y="316.60" width="6" height="0.7" fill="#ead2c0"/>
<path d="M422.90,316.70 C422.90,314.10 427.40,313.10 429.60,311.50 C431.80,313.10 436.30,314.10 436.30,316.70 C433.29,321.30 425.92,321.30 422.90,316.70 Z" fill="#f0dccd" stroke="#231f20" stroke-width="1.6"/><ellipse cx="429.6" cy="316.90" rx="4.6" ry="2.3" fill="#fffaf5" stroke="#8a6a5a" stroke-width="1"/><rect x="426.60" y="316.60" width="6" height="0.7" fill="#ead2c0"/>
<path d="M437.50,316.70 C437.50,314.10 442.00,313.10 444.20,311.50 C446.40,313.10 450.90,314.10 450.90,316.70 C447.88,321.30 440.51,321.30 437.50,316.70 Z" fill="#f0dccd" stroke="#231f20" stroke-width="1.6"/><ellipse cx="444.2" cy="316.90" rx="4.6" ry="2.3" fill="#fffaf5" stroke="#8a6a5a" stroke-width="1"/><rect x="441.20" y="316.60" width="6" height="0.7" fill="#ead2c0"/>
<path d="M459.10,316.70 C459.10,314.10 463.60,313.10 465.80,311.50 C468.00,313.10 472.50,314.10 472.50,316.70 C469.49,321.30 462.12,321.30 459.10,316.70 Z" fill="#f0dccd" stroke="#231f20" stroke-width="1.6"/><ellipse cx="465.8" cy="316.90" rx="4.6" ry="2.3" fill="#fffaf5" stroke="#8a6a5a" stroke-width="1"/><rect x="462.80" y="316.60" width="6" height="0.7" fill="#ead2c0"/>
<path d="M474.20,316.70 C474.20,314.10 478.70,313.10 480.90,311.50 C483.10,313.10 487.60,314.10 487.60,316.70 C484.58,321.30 477.21,321.30 474.20,316.70 Z" fill="#f0dccd" stroke="#231f20" stroke-width="1.6"/><ellipse cx="480.9" cy="316.90" rx="4.6" ry="2.3" fill="#fffaf5" stroke="#8a6a5a" stroke-width="1"/><rect x="477.90" y="316.60" width="6" height="0.7" fill="#ead2c0"/>
<ellipse cx="462.7" cy="332.5" rx="5.8" ry="2.9" fill="#e2f0f2" stroke="#231f20" stroke-width="1.5"/><ellipse cx="462.7" cy="332.5" rx="2.6" ry="1.2" fill="#7a7a7a"/>
<path d="M392.90,340.90 C395.69,336.11 402.51,336.11 405.30,340.90 C402.51,345.69 395.69,345.69 392.90,340.90 Z" fill="#9c7c70" stroke="#231f20" stroke-width="1.6"/><ellipse cx="399.1" cy="340.9" rx="3.3" ry="1.4" fill="#f3e3dc"/><ellipse cx="399.1" cy="340.9" rx="2.64" ry="0.98" fill="#f08c14"/>
<path d="M449.70,341.90 C452.49,337.11 459.31,337.11 462.10,341.90 C459.31,346.69 452.49,346.69 449.70,341.90 Z" fill="#9c7c70" stroke="#231f20" stroke-width="1.6"/><ellipse cx="455.9" cy="341.9" rx="3.3" ry="1.4" fill="#f3e3dc"/><ellipse cx="455.9" cy="341.9" rx="2.64" ry="0.98" fill="#f08c14"/>
<path d="M485.30,339.70 C488.09,334.91 494.91,334.91 497.70,339.70 C494.91,344.49 488.09,344.49 485.30,339.70 Z" fill="#9c7c70" stroke="#231f20" stroke-width="1.6"/><ellipse cx="491.5" cy="339.7" rx="3.3" ry="1.4" fill="#f3e3dc"/><ellipse cx="491.5" cy="339.7" rx="2.64" ry="0.98" fill="#f08c14"/>
<path d="M386,357 C391,356.8 394,357.7 395,360" fill="none" stroke="#231f20" stroke-width="1.1"/>
<path d="M414,357 C419,356.8 422,357.7 423,360" fill="none" stroke="#231f20" stroke-width="1.1"/>
<path d="M440,357 C445,356.8 448,357.7 449,360" fill="none" stroke="#231f20" stroke-width="1.1"/>
<path d="M464,357 C469,356.8 472,357.7 473,360" fill="none" stroke="#231f20" stroke-width="1.1"/>
<path d="M494,357 C499,356.8 502,357.7 503,360" fill="none" stroke="#231f20" stroke-width="1.1"/>
<path d="M514,357 C519,356.8 522,357.7 523,360" fill="none" stroke="#231f20" stroke-width="1.1"/>
<path d="M427.50,355.00 C425.50,352.00 421.20,351.00 421.20,348.00 C421.20,344.00 424.50,343.00 427.50,343.00 C430.50,343.00 433.80,344.00 433.80,348.00 C433.80,351.00 429.50,352.00 427.50,355.00 Z" fill="#ec6396" stroke="#231f20" stroke-width="1.5"/><ellipse cx="427.5" cy="348.20" rx="3.6" ry="1.8" fill="#fff"/><rect x="424.10" y="347.80" width="6.8" height="0.8" fill="#f3a5c2"/>
<ellipse cx="410.5" cy="354.5" rx="6.6" ry="2.8" fill="#5e4e62" stroke="#231f20" stroke-width="1.6"/><ellipse cx="410.5" cy="354.50" rx="4" ry="1.1" fill="#c7a6d6"/>
<ellipse cx="452.9" cy="354.8" rx="6.6" ry="2.8" fill="#5e4e62" stroke="#231f20" stroke-width="1.6"/><ellipse cx="452.9" cy="354.80" rx="4" ry="1.1" fill="#c7a6d6"/>
<ellipse cx="490" cy="353.8" rx="6.6" ry="2.8" fill="#5e4e62" stroke="#231f20" stroke-width="1.6"/><ellipse cx="490" cy="353.80" rx="4" ry="1.1" fill="#c7a6d6"/>
<path d="M427.5,362 L428.0,370 L421.0,375.5 M428.0,370 L434.5,375" fill="none" stroke="#231f20" stroke-width="1.3"/>
<path d="M390,361 C394,358 403,357.5 408,358.5 C403,360 395,360.5 390,361 Z" fill="#fff" stroke="#231f20" stroke-width="0.7"/>
<path d="M431,361 C435,358 444,357.5 449,358.5 C444,360 436,360.5 431,361 Z" fill="#fff" stroke="#231f20" stroke-width="0.7"/>
<path d="M467,361 C471,358 480,357.5 485,358.5 C480,360 472,360.5 467,361 Z" fill="#fff" stroke="#231f20" stroke-width="0.7"/>
<line x1="397.20" y1="361.00" x2="397.20" y2="369.00" stroke="#231f20" stroke-width="1.2"/><ellipse cx="396.4" cy="371" rx="5" ry="2.5" fill="#20a4dd" stroke="#231f20" stroke-width="1.2"/><circle cx="396.4" cy="371" r="0.9" fill="#231f20"/><rect x="394.60" y="373.00" width="3.4" height="3" fill="#20a4dd" stroke="#231f20" stroke-width="1"/><path d="M391.40,375.80 L401.00,375.80 L400.80,387.00 L399.40,395.00 L395.90,399.00 L392.40,399.00 L391.40,387.00 Z" fill="#20a4dd" stroke="#231f20" stroke-width="1.2"/><path d="M400.80,387.00 L399.40,395.00 L395.90,399.00 L396.90,390.00 Z" fill="#231f20"/><line x1="391.40" y1="387.00" x2="400.80" y2="387.00" stroke="#231f20" stroke-width="0.8"/>
<line x1="439.00" y1="361.00" x2="439.00" y2="369.00" stroke="#231f20" stroke-width="1.2"/><ellipse cx="438.2" cy="371" rx="5" ry="2.5" fill="#20a4dd" stroke="#231f20" stroke-width="1.2"/><circle cx="438.2" cy="371" r="0.9" fill="#231f20"/><rect x="436.40" y="373.00" width="3.4" height="3" fill="#20a4dd" stroke="#231f20" stroke-width="1"/><path d="M433.20,375.80 L442.80,375.80 L442.60,387.00 L441.20,395.00 L437.70,399.00 L434.20,399.00 L433.20,387.00 Z" fill="#20a4dd" stroke="#231f20" stroke-width="1.2"/><path d="M442.60,387.00 L441.20,395.00 L437.70,399.00 L438.70,390.00 Z" fill="#231f20"/><line x1="433.20" y1="387.00" x2="442.60" y2="387.00" stroke="#231f20" stroke-width="0.8"/>
<line x1="474.40" y1="361.00" x2="474.40" y2="369.00" stroke="#231f20" stroke-width="1.2"/><ellipse cx="473.6" cy="371" rx="5" ry="2.5" fill="#20a4dd" stroke="#231f20" stroke-width="1.2"/><circle cx="473.6" cy="371" r="0.9" fill="#231f20"/><rect x="471.80" y="373.00" width="3.4" height="3" fill="#20a4dd" stroke="#231f20" stroke-width="1"/><path d="M468.60,375.80 L478.20,375.80 L478.00,387.00 L476.60,395.00 L473.10,399.00 L469.60,399.00 L468.60,387.00 Z" fill="#20a4dd" stroke="#231f20" stroke-width="1.2"/><path d="M478.00,387.00 L476.60,395.00 L473.10,399.00 L474.10,390.00 Z" fill="#231f20"/><line x1="468.60" y1="387.00" x2="478.00" y2="387.00" stroke="#231f20" stroke-width="0.8"/>
<line x1="410.90" y1="360.20" x2="410.90" y2="366.20" stroke="#231f20" stroke-width="1.3"/><ellipse cx="410.9" cy="368.2" rx="3.6" ry="2.2" fill="#d0503e" stroke="#231f20" stroke-width="1.3"/><path d="M406.60,371.70 L415.20,371.70 L415.40,398.70 L406.60,398.70 Z" fill="#ea7a66" stroke="#231f20" stroke-width="1.3"/><rect x="408.30" y="383.70" width="6.4" height="12.8" fill="#231f20"/>
</svg>
</body></html>
